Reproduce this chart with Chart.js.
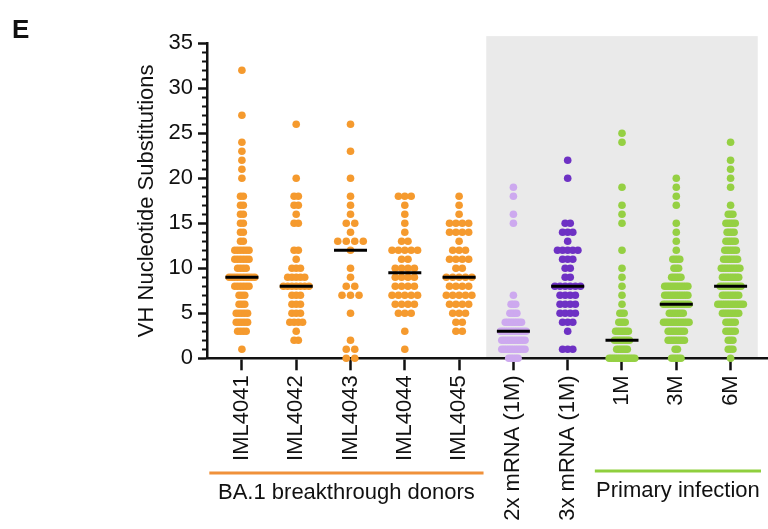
<!DOCTYPE html>
<html>
<head>
<meta charset="utf-8">
<script src="https://cdn.jsdelivr.net/npm/chart.js@4"></script>
<style>
  html, body { margin: 0; padding: 0; background: #fff; }
  #wrap { width: 768px; height: 529px; position: relative; }
</style>
</head>
<body>
<div id="wrap"><canvas id="c" width="768" height="529"></canvas></div>
<script>
// ---- DATA ----
// Category (tick) labels along the x axis
const categories = ['IML4041', 'IML4042', 'IML4043', 'IML4044', 'IML4045',
                    '2x mRNA (1M)', '3x mRNA (1M)', '1M', '3M', '6M'];

// Number of sequences with N VH nucleotide substitutions (array index = N)
const cntIML4041 = [0,1,0,4,5,5,3,3,6,10,4,6,6,2,2,2,2,2,2,0,1,1,1,1,1,0,0,1,0,0,0,0,1];
const cntIML4042 = [0,0,2,1,4,3,3,3,7,5,3,1,2,0,0,2,1,2,2,0,1,0,0,0,0,0,1];
const cntIML4043 = [2,2,1,0,0,1,0,3,2,1,1,0,1,4,1,2,1,1,1,0,1,0,0,1,0,0,1];
const cntIML4044 = [0,1,0,1,0,3,4,5,4,4,4,2,5,2,1,1,1,1,3];
const cntIML4045 = [0,0,0,2,2,3,4,5,4,5,2,4,3,1,4,4,1,1,1];
const cnt2xMRNA  = [5,11,11,12,8,4,3,1,0,0,0,0,0,0,0,1,1,0,1,1];
const cnt3xMRNA  = [0,3,0,1,3,4,4,4,6,2,2,3,5,1,3,2,0,0,0,0,1,0,1];
const cnt1M      = [13,6,8,7,4,3,1,1,1,1,1,0,1,0,0,1,1,1,0,1,0,0,0,0,1,1];
const cnt3M      = [5,2,8,8,12,7,12,11,11,5,3,4,1,1,1,1,0,1,1,1,1];
const cnt6M      = [1,3,3,5,5,8,12,8,10,8,9,7,6,5,4,5,3,1,0,1,1,1,1,0,1];

// Median per category
const medians = [9, 8, 12, 9.5, 9, 3, 8, 2, 6, 8];

// Y axis ticks
const yTicks = [0, 5, 10, 15, 20, 25, 30, 35];

// Group annotations below the axis
const groupNames = ['BA.1 breakthrough donors', 'Primary infection'];
const groupSpans = [[-0.6, 4.45], [6.5, 9.56]];

// ---- STYLE ----
const FONT = "'Liberation Sans', Arial, Helvetica, sans-serif";
const ORANGE = '#F59A2E';
const LILAC = '#CDA9EF';
const PURPLE = '#6E31C4';
const GREEN = '#95D043';
const groupColors = [ORANGE, ORANGE, ORANGE, ORANGE, ORANGE, LILAC, PURPLE, GREEN, GREEN, GREEN];
const groupLineColors = ['#F0913A', '#8FCF3E'];
const shadeRange = [4.5, 9.5]; // grey panel behind mRNA / primary-infection columns

const allCounts = [cntIML4041, cntIML4042, cntIML4043, cntIML4044, cntIML4045,
                   cnt2xMRNA, cnt3xMRNA, cnt1M, cnt3M, cnt6M];

// Prism-like column scatter: points of equal value spread horizontally, centred on the column
const SPREAD = 0.47;     // widest row centre-to-centre span, in category units
const STEP_CAP = 0.157;
function swarm(counts, g) {
  const maxN = Math.max(...counts);
  const step = Math.min(STEP_CAP, SPREAD / Math.max(1, maxN - 1));
  const pts = [];
  counts.forEach((n, v) => {
    for (let k = 0; k < n; k++) pts.push({ x: g + (k - (n - 1) / 2) * step, y: v });
  });
  return pts;
}

const datasets = [{
  label: 'median',
  data: medians.map((m, i) => ({ x: i, y: m })),
  pointStyle: 'line',
  pointRadius: 16.5,
  borderColor: '#000',
  borderWidth: 3,
  backgroundColor: '#000',
  clip: false,
  order: 0
}];
allCounts.forEach((counts, g) => {
  datasets.push({
    label: categories[g],
    data: swarm(counts, g),
    backgroundColor: groupColors[g],
    borderWidth: 0,
    pointRadius: 3.8,
    clip: false,
    order: 1
  });
});

const shadePlugin = {
  id: 'shade',
  beforeDraw(chart) {
    const { ctx, scales: { x, y } } = chart;
    const x0 = x.getPixelForValue(shadeRange[0]);
    const x1 = x.getPixelForValue(shadeRange[1]);
    const y0 = y.getPixelForValue(35.8);
    const y1 = y.getPixelForValue(0);
    ctx.save();
    ctx.fillStyle = '#EAEAEA';
    ctx.fillRect(x0, y0, x1 - x0, y1 - y0);
    ctx.restore();
  }
};

const decorPlugin = {
  id: 'decor',
  afterDraw(chart) {
    const { ctx, scales: { x, y } } = chart;
    ctx.save();
    // minor y ticks
    ctx.strokeStyle = '#111';
    ctx.lineWidth = 2;
    const ax = chart.chartArea.left;
    for (let v = 0; v <= 35; v++) {
      if (v % 5 === 0) continue;
      const py = Math.round(y.getPixelForValue(v)) + 0.5;
      ctx.beginPath();
      ctx.moveTo(ax - 5, py);
      ctx.lineTo(ax, py);
      ctx.stroke();
    }
    // panel letter
    ctx.fillStyle = '#111';
    ctx.font = 'bold 26px ' + FONT;
    ctx.textAlign = 'left';
    ctx.textBaseline = 'alphabetic';
    ctx.fillText('E', 12, 38);
    // group annotations
    const lineY = [473, 471];
    const textY = [499, 497];
    ctx.font = '22px ' + FONT;
    ctx.textAlign = 'center';
    groupNames.forEach((name, i) => {
      const a = x.getPixelForValue(groupSpans[i][0]);
      const b = x.getPixelForValue(groupSpans[i][1]);
      ctx.strokeStyle = groupLineColors[i];
      ctx.lineWidth = 3;
      ctx.beginPath();
      ctx.moveTo(a, lineY[i]);
      ctx.lineTo(b, lineY[i]);
      ctx.stroke();
      ctx.fillStyle = '#111';
      ctx.fillText(name, (a + b) / 2, textY[i]);
    });
    ctx.restore();
  }
};

new Chart(document.getElementById('c'), {
  type: 'scatter',
  data: { datasets },
  plugins: [shadePlugin, decorPlugin],
  options: {
    responsive: false,
    animation: false,
    events: [],
    layout: { autoPadding: false, padding: { top: 43.3, right: 0, bottom: 0, left: 0 } },
    plugins: { legend: { display: false }, tooltip: { enabled: false } },
    scales: {
      x: {
        type: 'linear',
        position: 'bottom',
        min: -0.643,
        max: 9.689,
        afterBuildTicks: s => { s.ticks = categories.map((_, i) => ({ value: i })); },
        afterFit: s => { s.height = 170.7; s.paddingLeft = 0; s.paddingRight = 0; },
        grid: { drawOnChartArea: false, drawTicks: true, tickLength: 12, tickWidth: 2.5, tickColor: '#111' },
        border: { display: true, color: '#111', width: 2.5 },
        ticks: {
          autoSkip: false,
          minRotation: 90,
          maxRotation: 90,
          padding: 5,
          color: '#111',
          font: { family: FONT, size: 22 },
          callback: v => categories[v] !== undefined ? categories[v] : ''
        }
      },
      y: {
        min: 0,
        max: 35,
        afterBuildTicks: s => { s.ticks = yTicks.map(v => ({ value: v })); },
        afterFit: s => { s.width = 207; s.paddingTop = 0; s.paddingBottom = 0; },
        grid: { drawOnChartArea: false, drawTicks: true, tickLength: 9, tickWidth: 2.5, tickColor: '#111' },
        border: { display: true, color: '#111', width: 2.5 },
        ticks: { padding: 5, color: '#111', font: { family: FONT, size: 22 } },
        title: {
          display: true,
          text: 'VH Nucleotide Substitutions',
          color: '#111',
          font: { family: FONT, size: 22 },
          padding: { top: 134, bottom: 0 }
        }
      }
    }
  }
});
</script>
</body>
</html>
